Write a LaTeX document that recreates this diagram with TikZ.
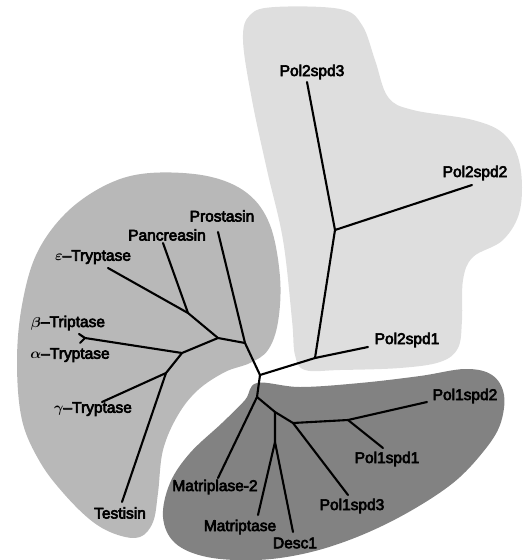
\documentclass[tikz,border=0pt]{standalone}
\usepackage{fontspec}
\newfontfamily\lbf{Liberation Sans}[FakeBold=4]
\definecolor{blobL}{gray}{0.72}
\definecolor{blobT}{gray}{0.87}
\definecolor{blobD}{gray}{0.51}
\newcommand{\grk}[1]{\mbox{\boldmath$#1$}}
\tikzset{
  br/.style={line width=2.1pt, line cap=round, line join=round},
  lbl/.style={font=\lbf\fontsize{15.5}{17}\selectfont, inner sep=0pt}
}
\begin{document}
\begin{tikzpicture}[x=1pt,y=-1pt]
\useasboundingbox (0,0) rectangle (523,560);
% blobs
\fill[blobL] plot[smooth cycle, tension=0.6] coordinates {
 (150,173) (207,176) (247,193) (270,225) (280,277) (278,322) (268,350) (250,363)
 (225,372) (198,390) (178,415) (163,450) (158,493) (153,522) (140,537) (118,535)
 (93,522) (65,495) (40,462) (22,420) (17,362) (22,305) (37,253) (67,212) (108,184)};
\fill[blobT] plot[smooth cycle, tension=0.6] coordinates {
 (250,15) (275,7) (340,9) (362,25) (375,60) (388,97) (413,110) (473,120) (505,135)
 (520,165) (520,210) (503,240) (473,257) (463,280) (462,320) (458,348) (440,362)
 (400,368) (340,370) (305,370) (295,355) (292,320) (283,240) (267,170) (252,100) (243,40)};
\fill[blobD] plot[smooth cycle, tension=0.6] coordinates {
 (257,383) (300,387) (360,383) (420,376) (465,369) (492,375) (504,395) (500,425)
 (483,452) (453,483) (407,513) (357,537) (307,553) (257,560) (207,557) (175,543)
 (163,517) (170,483) (190,453) (222,423) (245,400)};

% tree coordinates
\coordinate (C) at (260,375);
% left
\coordinate (L1) at (245,343);
\coordinate (tProst) at (218,232);
\coordinate (A) at (218,338);
\coordinate (E) at (188,313);
\coordinate (tPanc) at (163,243);
\coordinate (tEps) at (108,268);
\coordinate (F) at (182,353);
\coordinate (tBA) at (85,338);
\coordinate (tB) at (79,334);
\coordinate (tA) at (80,343);
\coordinate (G) at (166,373);
\coordinate (tGam) at (102,402);
\coordinate (tTest) at (122,502);
% top right
\coordinate (P1) at (315,358);
\coordinate (tP21) at (368,347);
\coordinate (P2) at (335,230);
\coordinate (tP23) at (307,82);
\coordinate (tP22) at (472,185);
% bottom
\coordinate (B) at (257,397);
\coordinate (tMat2) at (218,478);
\coordinate (M) at (275,412);
\coordinate (Q) at (293,423);
\coordinate (tP13) at (348,495);
\coordinate (R) at (348,420);
\coordinate (tP12) at (427,402);
\coordinate (tP11) at (383,448);
\coordinate (N) at (275,442);
\coordinate (tMat) at (258,515);
\coordinate (tDesc) at (293,532);

% branches
\draw[br] (C) -- (L1) -- (tProst);
\draw[br] (L1) -- (A) -- (E) -- (tPanc);
\draw[br] (E) -- (tEps);
\draw[br] (A) -- (F) -- (tBA) -- (tB);
\draw[br] (tBA) -- (tA);
\draw[br] (F) -- (G) -- (tGam);
\draw[br] (G) -- (tTest);
\draw[br] (C) -- (P1) -- (tP21);
\draw[br] (P1) -- (P2) -- (tP23);
\draw[br] (P2) -- (tP22);
\draw[br] (C) -- (B) -- (tMat2);
\draw[br] (B) -- (M) -- (Q) -- (tP13);
\draw[br] (Q) -- (R) -- (tP12);
\draw[br] (R) -- (tP11);
\draw[br] (M) -- (N) -- (tMat);
\draw[br] (N) -- (tDesc);

% labels
\node[lbl] (lP23) at (312,72) {Pol2spd3};
\node[lbl] (lP22) at (475,173) {Pol2spd2};
\node[lbl] (lP21) at (407,340) {Pol2spd1};
\node[lbl] (lProst) at (222,216) {Prostasin};
\node[lbl] (lPanc) at (167,235) {Pancreasin};
\node[lbl] (lEps) at (93,257) {\grk{\varepsilon}–Tryptase};
\node[lbl] (lBet) at (68,323) {\grk{\beta}–Triptase};
\node[lbl] (lAlp) at (70,355) {\grk{\alpha}–Tryptase};
\node[lbl] (lGam) at (93,409) {\grk{\gamma}–Tryptase};
\node[lbl] (lTest) at (120,513) {Testisin};
\node[lbl] (lMat2) at (215,487) {Matriplase-2};
\node[lbl] (lMat) at (240,527) {Matriptase};
\node[lbl] (lDesc) at (295,543) {Desc1};
\node[lbl] (lP13) at (352,506) {Pol1spd3};
\node[lbl] (lP11) at (387,459) {Pol1spd1};
\node[lbl] (lP12) at (465,396) {Pol1spd2};
\end{tikzpicture}
\end{document}
